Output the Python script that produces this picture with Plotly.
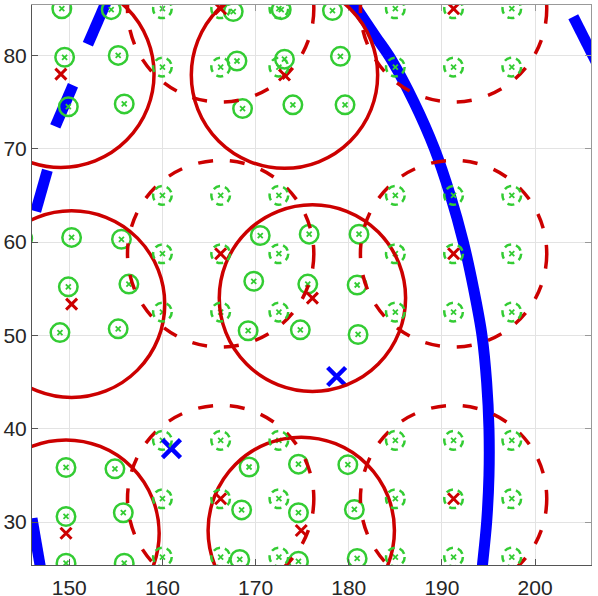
import plotly.graph_objects as go

# solid green nodes (perturbed clusters)
node_x = [149.2, 154.5, 149.5, 155.25, 149.9, 155.9,
          167.6, 172.75, 178.25, 168.0, 173.1, 179.1, 168.6, 174.0, 179.6,
          145.0, 150.25, 155.6, 149.9, 156.4, 149.0, 155.25,
          170.5, 175.75, 181.1, 169.8, 175.6, 180.9, 169.2, 174.8, 181.0,
          149.65, 154.9, 149.65, 155.8, 149.65, 155.9,
          169.3, 174.6, 179.9, 168.5, 174.6, 180.6, 168.3, 174.6, 180.9]
node_y = [85.0, 84.9, 79.8, 80.0, 74.5, 74.8,
          84.7, 84.9, 84.8, 79.4, 79.6, 79.9, 74.3, 74.7, 74.7,
          60.4, 60.5, 60.3, 55.2, 55.5, 50.3, 50.7,
          60.7, 60.85, 60.85, 55.8, 55.5, 55.4, 50.5, 50.6, 50.1,
          35.85, 35.7, 30.6, 31.0, 25.6, 25.6,
          35.9, 36.2, 36.15, 31.3, 31.0, 31.35, 26.0, 25.8, 26.1]

# dashed green nodes (regular grid)
grid_cols = [160, 166.25, 172.5, 185, 191.25, 197.5]
grid_rows = [85, 78.75, 65, 58.75, 52.5, 38.75, 32.5, 26.25]

# cluster heads (solid red circles) and cell centres (dashed red circles)
head_x = [149.1, 173.1, 150.25, 176.1, 149.65, 174.9]
head_y = [78.0, 77.9, 53.35, 54.0, 28.8, 29.1]
cell_x = [166.25, 191.25, 166.25, 191.25, 166.25, 191.25]
cell_y = [85, 85, 58.75, 58.75, 32.5, 32.5]
cover_r = 10
node_r = 1.0

# anchors
anchor_x = [160.97, 178.7]
anchor_y = [37.86, 45.6]

# boundary curve (solid)
bound_x = [179.5, 180.6, 182.9, 184.6, 187.0, 189.2, 190.9, 192.3, 193.4, 194.3, 194.8, 195.05, 195.05, 194.8, 194.35, 194.2]
bound_y = [87.0, 85.4, 82.0, 79.5, 75.0, 70.0, 65.0, 60.0, 55.0, 50.0, 45.0, 40.0, 35.0, 30.0, 25.4, 24.0]

# second boundary, visible dashes only
dash_bx = [146.0, 147.0, None, 146.4, 147.65, None, 148.5, 150.4, None, 152.0, 154.3, None, 204.1, 206.6]
dash_by = [30.4, 24.6, None, 63.3, 67.7, None, 72.4, 76.8, None, 81.2, 86.5, None, 84.15, 79.2]

GREEN = '#33cc33'
RED = '#cc0000'
BLUE = '#0000ff'

grid_x = [c for r in grid_rows for c in grid_cols]
grid_y = [r for r in grid_rows for c in grid_cols]

fig = go.Figure()

fig.add_trace(go.Scatter(x=bound_x, y=bound_y, mode='lines',
                         line=dict(color=BLUE, width=11, shape='spline'), hoverinfo='skip'))
fig.add_trace(go.Scatter(x=dash_bx, y=dash_by, mode='lines',
                         line=dict(color=BLUE, width=11), hoverinfo='skip'))

fig.add_trace(go.Scatter(x=node_x, y=node_y, mode='markers',
                         marker=dict(symbol='circle-open', size=18.5, color=GREEN, line=dict(width=2.5, color=GREEN))))
fig.add_trace(go.Scatter(x=node_x + grid_x, y=node_y + grid_y, mode='markers',
                         marker=dict(symbol='x-thin-open', size=5, color=GREEN, line=dict(width=1.8, color=GREEN))))
fig.add_trace(go.Scatter(x=head_x + cell_x, y=head_y + cell_y, mode='markers',
                         marker=dict(symbol='x-thin-open', size=11, color=RED, line=dict(width=3, color=RED))))
fig.add_trace(go.Scatter(x=anchor_x, y=anchor_y, mode='markers',
                         marker=dict(symbol='x-thin-open', size=18, color=BLUE, line=dict(width=4.5, color=BLUE))))

# top / right box axes
fig.add_trace(go.Scatter(x=[None], y=[None], xaxis='x2', yaxis='y2', hoverinfo='skip'))

shapes = []
for x, y in zip(head_x, head_y):
    shapes.append(dict(type='circle', xref='x', yref='y', x0=x - cover_r, x1=x + cover_r,
                       y0=y - cover_r, y1=y + cover_r, line=dict(color=RED, width=3.5)))
for x, y in zip(cell_x, cell_y):
    shapes.append(dict(type='circle', xref='x', yref='y', x0=x - cover_r, x1=x + cover_r,
                       y0=y - cover_r, y1=y + cover_r, line=dict(color=RED, width=3.5, dash='15px,17px')))
for x, y in zip(grid_x, grid_y):
    shapes.append(dict(type='circle', xref='x', yref='y', x0=x - node_r, x1=x + node_r,
                       y0=y - node_r, y1=y + node_r, line=dict(color=GREEN, width=2.5, dash='7px,5px')))

tickfont = dict(family='Liberation Sans, Arial, sans-serif', size=21, color='#262626')

fig.update_layout(
    width=598, height=596,
    margin=dict(l=32, r=7, t=5, b=31, autoexpand=False),
    paper_bgcolor='white', plot_bgcolor='white',
    showlegend=False,
    shapes=shapes,
    xaxis=dict(range=[146, 206], tickvals=[150, 160, 170, 180, 190, 200], ticks='inside', ticklen=6,
               tickcolor='#555555', showgrid=True, gridcolor='#e3e3e3', gridwidth=1, automargin=False,
               showline=True, linecolor='#555555', linewidth=1, zeroline=False, tickfont=tickfont,
               ticklabelstandoff=4),
    yaxis=dict(range=[25.4, 85.4], tickvals=[30, 40, 50, 60, 70, 80], ticks='inside', ticklen=6,
               tickcolor='#555555', showgrid=True, gridcolor='#e3e3e3', gridwidth=1, automargin=False,
               showline=True, linecolor='#555555', linewidth=1, zeroline=False, tickfont=tickfont),
    xaxis2=dict(overlaying='x', matches='x', side='top', showticklabels=False, ticks='inside', ticklen=6,
                tickvals=[150, 160, 170, 180, 190, 200], tickcolor='#999999', automargin=False,
                showgrid=False, showline=True, linecolor='#999999', zeroline=False),
    yaxis2=dict(overlaying='y', matches='y', side='right', showticklabels=False, ticks='inside', ticklen=6,
                tickvals=[30, 40, 50, 60, 70, 80], tickcolor='#999999', automargin=False,
                showgrid=False, showline=True, linecolor='#999999', zeroline=False),
)

# drop the default page margin so the figure sits at the window corner
fig.write_html("out.html", config={'displayModeBar': False},
               post_script="document.body.style.margin='0px';")
